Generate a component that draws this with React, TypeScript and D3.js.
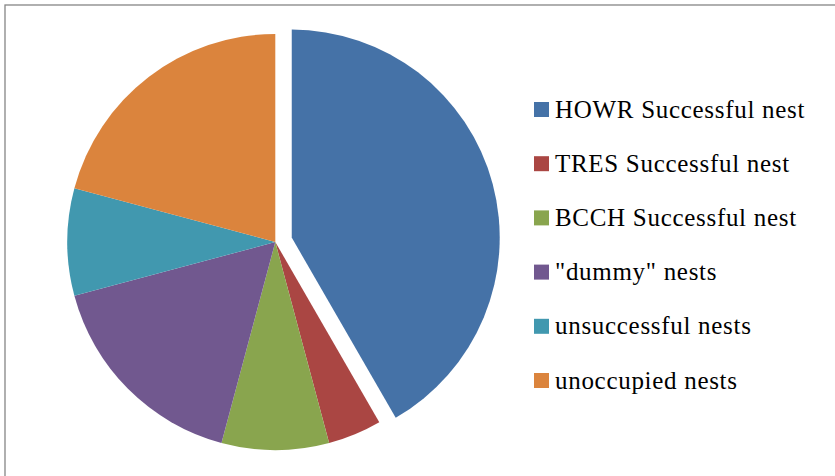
import React, {useEffect, useRef} from 'react';
import * as d3 from 'd3';

// nest counts
const categories = ['HOWR Successful nest', 'TRES Successful nest', 'BCCH Successful nest', '"dummy" nests', 'unsuccessful nests', 'unoccupied nests'];
const counts = [10, 1, 2, 4, 2, 5];
const colors = ['#4572A7', '#AA4643', '#89A54E', '#71588F', '#4198AF', '#DB843D'];
const exploded = [17, 0, 0, 0, 0, 0];

export default function App(){
    const ref = useRef(null);
    const width = 835;
    const height = 476;

    useEffect(()=>{
        const svg = d3.select(ref.current);
        svg.selectAll('*').remove();

        // chart border (only top and left visible in frame)
        svg.append('rect')
            .attr('x', 5).attr('y', 5)
            .attr('width', width + 10).attr('height', height + 10)
            .attr('fill', 'white')
            .attr('stroke', '#868686')
            .attr('stroke-width', 1.3);

        const cx = 275.3, cy = 242, r = 208;
        const data = categories.map((c,i) => ({name: c, value: counts[i], color: colors[i], off: exploded[i]}));

        const pie = d3.pie().value(d => d.value).sort(null);
        const arc = d3.arc().innerRadius(0).outerRadius(r);
        const arcs = pie(data);

        const g = svg.append('g').attr('transform', 'translate(' + cx + ',' + cy + ')');
        g.selectAll('path').data(arcs).enter().append('path')
            .attr('d', arc)
            .attr('fill', d => d.data.color)
            .attr('transform', d => {
                const mid = (d.startAngle + d.endAngle)/2;
                const dx = d.data.off*Math.sin(mid);
                const dy = -d.data.off*Math.cos(mid);
                return 'translate(' + dx + ',' + dy + ')';
            });

        // legend
        const yScale = d3.scaleLinear().domain([0, categories.length-1]).range([109.5, 380.5]);
        const leg = svg.append('g');
        const items = leg.selectAll('g').data(data).enter().append('g')
            .attr('transform', (d,i) => 'translate(534,' + yScale(i) + ')');
        items.append('rect')
            .attr('x', 0).attr('y', -7.5)
            .attr('width', 15).attr('height', 15)
            .attr('fill', d => d.color);
        items.append('text')
            .attr('x', 21).attr('y', 8)
            .attr('font-family', '"Liberation Serif", "DejaVu Serif", serif')
            .attr('font-size', 25)
            .attr('letter-spacing', 0.7)
            .attr('fill', '#000')
            .text(d => d.name);
    },[]);

    return (
        <svg ref={ref} width={width} height={height}
            style={{position:'fixed', left:0, top:0, background:'white'}}></svg>
    );
}
